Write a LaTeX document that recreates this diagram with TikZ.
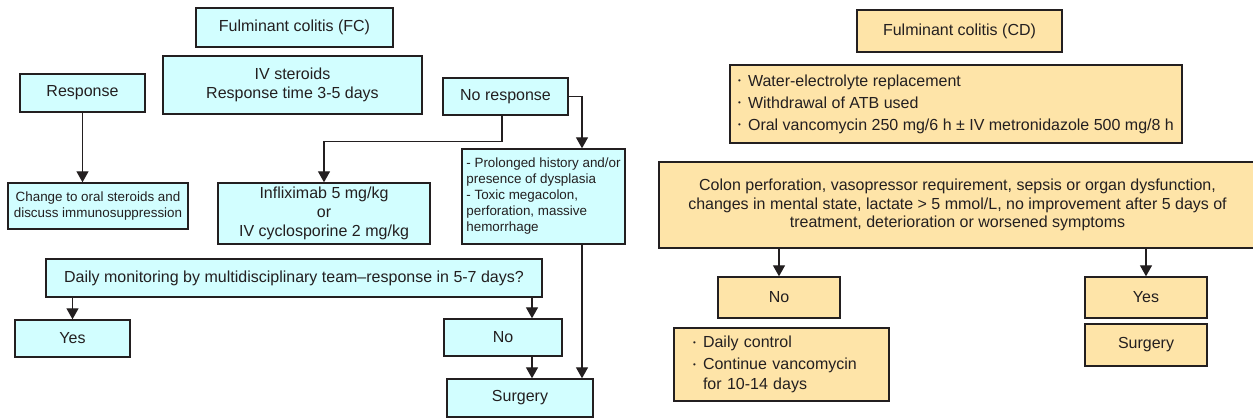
\documentclass[tikz,border=0pt]{standalone}
\usepackage{fontspec}
\setmainfont{Liberation Sans}
\usetikzlibrary{arrows.meta}

\definecolor{uccyan}{HTML}{D2FEFF}
\definecolor{cdsand}{HTML}{FEE4A8}
\definecolor{ink}{HTML}{231F20}

\tikzset{
	box/.style={draw=ink, line width=0.7pt, inner sep=0pt, align=center, text=ink,
		font=\fontsize{8}{9.5}\selectfont},
	small/.style={font=\fontsize{6.7}{8}\selectfont},
	ucbox/.style={box, fill=uccyan},
	cdbox/.style={box, fill=cdsand},
	arr/.style={draw=ink, line width=0.65pt, -{Triangle[width=6pt,length=5.5pt]}},
}

\newcommand{\bul}{\makebox[5pt][l]{\raisebox{1.2pt}{\scalebox{0.5}{\textbullet}}}}

\begin{document}
\begin{tikzpicture}[x=0.5pt,y=-0.5pt]

	\useasboundingbox (0,0) rectangle (1253,418);

	% fulminant colitis (FC)
	\node[ucbox, minimum width=98.5pt, minimum height=19.5pt] (fc) at (294.5,27.5) {Fulminant colitis (FC)};
	\node[ucbox, minimum width=129.5pt, minimum height=29pt] (ivs) at (292.5,85) {IV steroids\\Response time 3-5 days};

	% response
	\node[ucbox, minimum width=62.5pt, minimum height=19pt] (resp) at (82.5,93) {Response};
	\node[ucbox, small, minimum width=90pt, minimum height=23pt] (chg) at (98,206) {Change to oral steroids and\\discuss immunosuppression};

	% no response
	\node[ucbox, minimum width=62.5pt, minimum height=18.5pt] (noresp) at (505.5,96.5) {No response};
	\node[ucbox, minimum width=106pt, minimum height=30.5pt] (infl) at (324,213.5) {Infliximab 5 mg/kg\\or\\IV cyclosporine 2 mg/kg};
	\node[ucbox, small, align=left, minimum width=81.5pt, minimum height=47.5pt] (dysp) at (543.5,196.5)
		{- Prolonged history and/or\\presence of dysplasia\\- Toxic megacolon,\\perforation, massive\\hemorrhage};

	% monitoring
	\node[ucbox, minimum width=248pt, minimum height=19pt] (daily) at (294,278) {Daily monitoring by multidisciplinary team--response in 5-7 days?};
	\node[ucbox, minimum width=57.5pt, minimum height=18.5pt] (yes) at (72.5,338.5) {Yes};
	\node[ucbox, minimum width=59pt, minimum height=18.5pt] (no) at (503,337.5) {No};
	\node[ucbox, minimum width=73pt, minimum height=19pt] (surg) at (520,398) {Surgery};

	% connectors (FC)
	\coordinate (rt) at (582,0);
	\coordinate (mid) at (532,0);
	\coordinate (nr) at (502,0);
	\draw[arr] (resp.south) -- (resp.south |- chg.north);
	\draw[arr] (nr |- noresp.south) -- ++(0,26) -| (infl.north);
	\draw[arr] (noresp.east) -| (rt |- dysp.north);
	\draw[arr] (rt |- dysp.south) -- (rt |- surg.north);
	\draw[arr] (daily.south -| yes.north) -- (yes.north);
	\draw[arr] (mid |- daily.south) -- (mid |- no.north);
	\draw[arr] (mid |- no.south) -- (mid |- surg.north);

	% fulminant colitis (CD)
	\node[cdbox, minimum width=102.5pt, minimum height=21pt] (cd) at (959.5,31) {Fulminant colitis (CD)};
	\node[cdbox, align=left, minimum width=226pt, minimum height=39pt, font=\fontsize{8}{11}\selectfont] (trt) at (956,104)
		{\bul Water-electrolyte replacement\\\bul Withdrawal of ATB used\\\bul Oral vancomycin 250 mg/6 h ± IV metronidazole 500 mg/8 h};

	% severity criteria
	\node[cdbox, minimum width=298.5pt, minimum height=43pt, font=\fontsize{8}{9.25}\selectfont] (colon) at (957.5,205)
		{Colon perforation, vasopressor requirement, sepsis or organ dysfunction,\\changes in mental state, lactate > 5 mmol/L, no improvement after 5 days of\\treatment, deterioration or worsened symptoms};

	% outcomes
	\node[cdbox, minimum width=61pt, minimum height=20.5pt] (cno) at (779,297.5) {No};
	\node[cdbox, align=left, text width=88.5pt, inner xsep=9.5pt, minimum height=36.5pt, font=\fontsize{8}{10}\selectfont] (ctrl) at (781.5,364.5)
		{\bul Daily control\\[1pt]\bul Continue vancomycin\\\hspace*{5pt}for 10-14 days};
	\node[cdbox, minimum width=61pt, minimum height=20.5pt] (cyes) at (1146,297.5) {Yes};
	\node[cdbox, minimum width=61pt, minimum height=21pt] (csurg) at (1146,345) {Surgery};

	% connectors (CD)
	\draw[arr] (colon.south -| cno.north) -- (cno.north);
	\draw[arr] (colon.south -| cyes.north) -- (cyes.north);

\end{tikzpicture}
\end{document}
